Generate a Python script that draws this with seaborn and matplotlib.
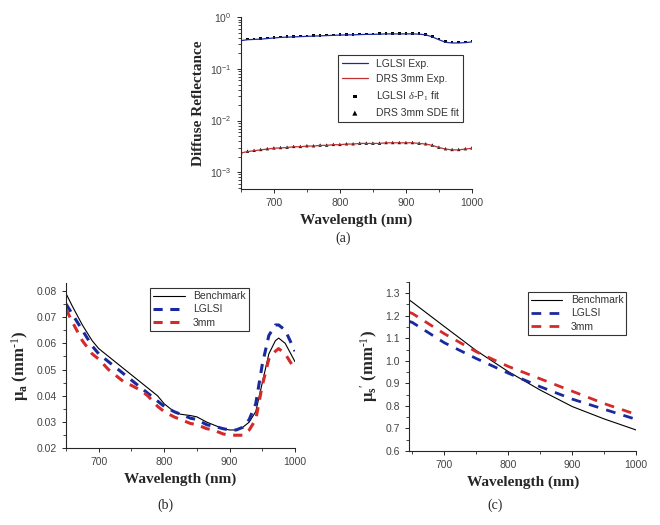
import numpy as np
import pandas as pd
import matplotlib
matplotlib.use('Agg')
import matplotlib.pyplot as plt
import seaborn as sns
from matplotlib.ticker import AutoMinorLocator, LogLocator, NullFormatter

# ---- data ----
wl_a = list(range(650, 1001, 10))
lglsi_exp = [0.355, 0.37, 0.375, 0.38, 0.39, 0.40, 0.41, 0.415, 0.42, 0.425, 0.43, 0.435,
             0.44, 0.445, 0.45, 0.455, 0.46, 0.46, 0.465, 0.47, 0.47, 0.475, 0.48, 0.48,
             0.48, 0.48, 0.48, 0.475, 0.46, 0.42, 0.37, 0.33, 0.32, 0.32, 0.325, 0.335]
lglsi_fit = [0.37, 0.38, 0.385, 0.39, 0.40, 0.41, 0.42, 0.425, 0.43, 0.435, 0.44, 0.445,
             0.45, 0.455, 0.46, 0.465, 0.47, 0.47, 0.475, 0.48, 0.48, 0.485, 0.49, 0.49,
             0.49, 0.49, 0.49, 0.485, 0.47, 0.43, 0.38, 0.34, 0.33, 0.33, 0.335, 0.345]
drs_exp = [0.00235, 0.0025, 0.0026, 0.0027, 0.0028, 0.0029, 0.00295, 0.003, 0.0031, 0.0031,
           0.0032, 0.0032, 0.0033, 0.0033, 0.0034, 0.0034, 0.0035, 0.0035, 0.0036, 0.0036,
           0.0036, 0.0036, 0.0037, 0.0037, 0.0037, 0.0037, 0.0037, 0.0036, 0.0035, 0.0033,
           0.003, 0.0028, 0.0027, 0.0027, 0.0028, 0.0029]
drs_fit = [0.0024, 0.00255, 0.00265, 0.00275, 0.00285, 0.00295, 0.003, 0.00305, 0.00315, 0.00315,
           0.00325, 0.00325, 0.00335, 0.00335, 0.00345, 0.00345, 0.00355, 0.00355, 0.00365, 0.00365,
           0.00365, 0.00365, 0.00375, 0.00375, 0.00375, 0.00375, 0.00375, 0.00365, 0.00355, 0.00335,
           0.00305, 0.00285, 0.00275, 0.00275, 0.00285, 0.00295]

wl_b = [650, 660, 675, 690, 700, 715, 725, 740, 750, 765, 775, 790, 800, 815, 825, 840, 850,
        865, 875, 890, 900, 910, 920, 930, 940, 950, 960, 970, 975, 985, 1000]
mua_bench = [0.079, 0.074, 0.067, 0.061, 0.058, 0.055, 0.053, 0.050, 0.048, 0.045, 0.043, 0.040,
             0.037, 0.034, 0.033, 0.0325, 0.032, 0.030, 0.029, 0.0275, 0.027, 0.027, 0.028, 0.030,
             0.034, 0.045, 0.056, 0.061, 0.062, 0.060, 0.053]
mua_lglsi = [0.075, 0.071, 0.065, 0.059, 0.056, 0.053, 0.051, 0.048, 0.046, 0.043, 0.041, 0.038,
             0.036, 0.034, 0.033, 0.0315, 0.031, 0.029, 0.0285, 0.0275, 0.027, 0.027, 0.028, 0.031,
             0.037, 0.052, 0.063, 0.067, 0.067, 0.065, 0.057]
mua_3mm = [0.073, 0.068, 0.061, 0.056, 0.054, 0.050, 0.048, 0.045, 0.044, 0.042, 0.040, 0.036,
           0.034, 0.032, 0.031, 0.0295, 0.029, 0.0275, 0.027, 0.0255, 0.025, 0.025, 0.025, 0.027,
           0.031, 0.044, 0.054, 0.057, 0.058, 0.056, 0.050]

wl_c = [645, 650, 700, 750, 800, 850, 900, 950, 1000]
mus_bench = [1.27, 1.26, 1.152, 1.045, 0.952, 0.87, 0.797, 0.742, 0.693]
mus_lglsi = [1.175, 1.17, 1.08, 1.01, 0.945, 0.885, 0.83, 0.785, 0.74]
mus_3mm = [1.215, 1.21, 1.12, 1.04, 0.975, 0.92, 0.865, 0.81, 0.762]

sns.set_style('ticks')
plt.rcParams['font.family'] = ['Liberation Sans', 'DejaVu Sans']
plt.rcParams['mathtext.fontset'] = 'custom'
plt.rcParams['mathtext.rm'] = 'Liberation Serif'
plt.rcParams['mathtext.bf'] = 'Liberation Serif:bold'
plt.rcParams['mathtext.it'] = 'Liberation Serif:italic'

blue = '#1a2a9e'
red = '#d42a2a'
serif = dict(family='Liberation Serif', fontweight='bold', fontsize=11)
tickc = '#444444'

fig = plt.figure(figsize=(6.6, 5.25), dpi=100)
ax_a = fig.add_axes([0.365, 0.64, 0.350, 0.328])
ax_b = fig.add_axes([0.100, 0.146, 0.347, 0.315])
ax_c = fig.add_axes([0.620, 0.141, 0.344, 0.322])


def style(ax):
    sns.despine(ax=ax)
    for s in ['left', 'bottom']:
        ax.spines[s].set_linewidth(0.8)
    ax.tick_params(axis='both', which='major', labelsize=7.5, length=3, width=0.7,
                   labelcolor=tickc, direction='out')
    ax.tick_params(axis='both', which='minor', length=2, width=0.6, direction='out')
    ax.set_xlabel('Wavelength (nm)', **serif)
    ax.set_xticks([700, 800, 900, 1000])
    ax.xaxis.set_minor_locator(AutoMinorLocator(2))


# (a)
sns.lineplot(x=wl_a, y=lglsi_exp, ax=ax_a, color=blue, lw=0.9, label='LGLSI Exp.')
sns.lineplot(x=wl_a, y=drs_exp, ax=ax_a, color='#c03030', lw=0.9, label='DRS 3mm Exp.')
sns.scatterplot(x=wl_a, y=lglsi_fit, ax=ax_a, color='black', marker='s', s=3,
                edgecolor='none', label=r'LGLSI $\delta$-P$_1$ fit')
sns.scatterplot(x=wl_a, y=drs_fit, ax=ax_a, color='black', marker='^', s=6,
                edgecolor='none', label='DRS 3mm SDE fit')
ax_a.set_yscale('log')
ax_a.set_xlim(650, 1000)
ax_a.set_ylim(4.7e-4, 1.03)
ax_a.yaxis.set_major_locator(LogLocator(base=10, numticks=10))
ax_a.yaxis.set_minor_locator(LogLocator(base=10, subs=np.arange(2, 10), numticks=10))
ax_a.yaxis.set_minor_formatter(NullFormatter())
style(ax_a)
ax_a.set_ylabel('Diffuse Reflectance', **serif)
leg = ax_a.legend(loc='center right', bbox_to_anchor=(0.985, 0.585), fontsize=7.5,
                  frameon=True, fancybox=False, edgecolor='black', handlelength=2.5,
                  borderpad=0.4, labelspacing=0.5, markerscale=1.5)
leg.get_frame().set_linewidth(0.8)
for t in leg.get_texts():
    t.set_color('#333333')

# (b)
sns.lineplot(x=wl_b, y=mua_bench, ax=ax_b, color='black', lw=0.8, label='Benchmark')
sns.lineplot(x=wl_b, y=mua_lglsi, ax=ax_b, color=blue, lw=2.2, label='LGLSI')
sns.lineplot(x=wl_b, y=mua_3mm, ax=ax_b, color=red, lw=2.2, label='3mm')
ax_b.lines[1].set_dashes((3, 2.5))
ax_b.lines[2].set_dashes((3, 2.5))
ax_b.set_xlim(650, 1000)
ax_b.set_ylim(0.02, 0.083)
ax_b.set_yticks([0.02, 0.03, 0.04, 0.05, 0.06, 0.07, 0.08])
ax_b.yaxis.set_major_formatter(matplotlib.ticker.FormatStrFormatter('%.2f'))
ax_b.yaxis.set_minor_locator(AutoMinorLocator(2))
style(ax_b)
ax_b.set_ylabel(r'$\mathbf{\mu_a}$ (mm$^{\text{-1}}$)', **serif)
ax_b.yaxis.label.set_size(12)

# (c)
sns.lineplot(x=wl_c, y=mus_bench, ax=ax_c, color='black', lw=0.8, label='Benchmark')
sns.lineplot(x=wl_c, y=mus_lglsi, ax=ax_c, color=blue, lw=2.0, label='LGLSI')
sns.lineplot(x=wl_c, y=mus_3mm, ax=ax_c, color=red, lw=2.0, label='3mm')
ax_c.lines[1].set_dashes((3.5, 3))
ax_c.lines[2].set_dashes((3.5, 3))
ax_c.set_xlim(645, 1000)
ax_c.set_ylim(0.6, 1.35)
ax_c.set_yticks(np.round(np.arange(0.6, 1.31, 0.1), 1))
ax_c.yaxis.set_major_formatter(matplotlib.ticker.FormatStrFormatter('%.1f'))
ax_c.yaxis.set_minor_locator(AutoMinorLocator(2))
style(ax_c)
ax_c.set_ylabel(r"$\mathbf{\mu_s}^{\prime}$ (mm$^{\text{-1}}$)", **serif)
ax_c.yaxis.label.set_size(12)

for ax, anchor in [(ax_b, (0.82, 1.0)), (ax_c, (0.98, 0.97))]:
    lg = ax.legend(loc='upper right', bbox_to_anchor=anchor, fontsize=7.5, frameon=True,
                   fancybox=False, edgecolor='black', handlelength=3.0,
                   borderpad=0.3, labelspacing=0.3)
    lg.get_frame().set_linewidth(0.8)
    for t in lg.get_texts():
        t.set_color('#333333')

fig.text(0.52, 0.547, '(a)', ha='center', va='center', family='Liberation Serif', fontsize=10)
fig.text(0.25, 0.038, '(b)', ha='center', va='center', family='Liberation Serif', fontsize=10)
fig.text(0.75, 0.038, '(c)', ha='center', va='center', family='Liberation Serif', fontsize=10)

fig.savefig('out.png', dpi=100)
